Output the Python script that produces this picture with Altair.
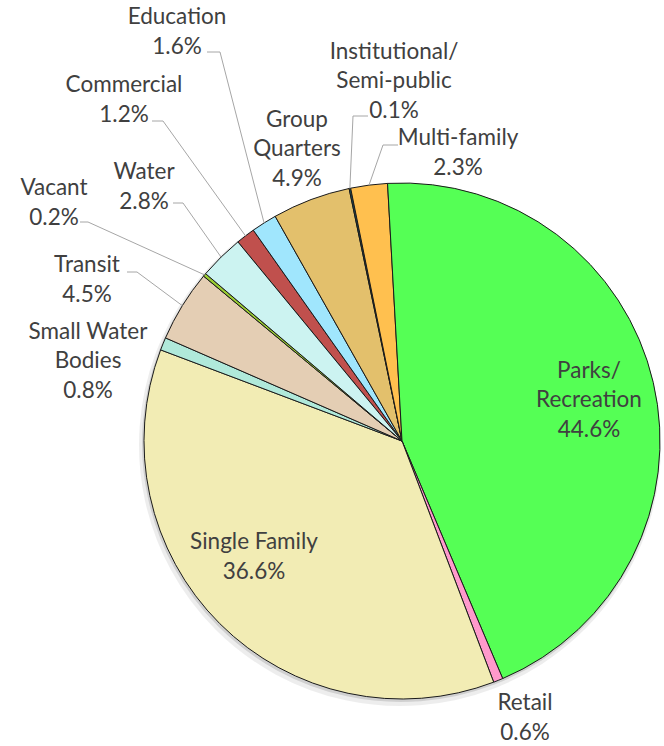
import math
import altair as alt
import pandas as pd

# ---------------- data ----------------
categories = ["Commercial", "Education", "Group Quarters", "Institutional/Semi-public",
              "Multi-family", "Parks/Recreation", "Retail", "Single Family",
              "Small Water Bodies", "Transit", "Vacant", "Water"]
label_names = ["Commercial", "Education", "Group\nQuarters", "Institutional/\nSemi-public",
               "Multi-family", "Parks/\nRecreation", "Retail", "Single Family",
               "Small Water\nBodies", "Transit", "Vacant", "Water"]
shares = [1.2, 1.6, 4.9, 0.1, 2.3, 44.6, 0.6, 36.6, 0.8, 4.5, 0.2, 2.8]
colors = ["#c0504d", "#a0e6fd", "#e3c06c", "#1d5a62", "#ffc04f", "#55ff55",
          "#ff99cc", "#f2ecb4", "#b0e9da", "#e4ceb4", "#9acd32", "#ccf3f1"]

# ---------------- layout ----------------
W, H = 664, 746
CX, CY, R = 402, 441, 258
START_DEG = -39.5  # rotation of first slice
LINE_H = 29.5

# label block centres (pixels)
label_pos = {
    "Commercial": (124, 100), "Education": (177, 32), "Group Quarters": (297, 149),
    "Institutional/Semi-public": (394, 81), "Multi-family": (458, 153),
    "Parks/Recreation": (589, 400), "Retail": (525, 718), "Single Family": (254, 557),
    "Small Water Bodies": (88, 361), "Transit": (87, 280), "Vacant": (54, 203),
    "Water": (144, 187),
}
# leader lines: (attach point at text, elbow)
leaders = {
    "Education": ((207, 52), (220, 52)),
    "Commercial": ((152, 121), (163, 121)),
    "Water": ((173, 203), (183, 203)),
    "Vacant": ((80, 222), (88, 222)),
    "Transit": ((127, 272), (137, 272)),
    "Institutional/Semi-public": ((368, 116), (353, 116)),
    "Multi-family": ((398, 145), (383, 145)),
}

total = sum(shares)
a0 = math.radians(START_DEG)

df = pd.DataFrame({"category": categories, "share": shares, "order": list(range(len(categories)))})

# label table (y is the first line's centre)
lab_rows = []
for name, lbl, v in zip(categories, label_names, shares):
    txt = f"{lbl}\n{v:.1f}%"
    n = txt.count("\n") + 1
    x, y = label_pos[name]
    lab_rows.append({"category": name, "txt": txt, "lx": x, "ly": y - (n - 1) * LINE_H / 2})
lab_df = pd.DataFrame(lab_rows)

# leader lines: from label attach -> elbow -> slice edge at mid angle
lead_rows = []
cum = 0.0
for name, v in zip(categories, shares):
    mid = a0 + (cum + v / 2) / total * 2 * math.pi
    cum += v
    if name in leaders:
        (ax, ay), (ex, ey) = leaders[name]
        px = CX + R * math.sin(mid)
        py = CY - R * math.cos(mid)
        lead_rows += [
            {"category": name, "seq": 0, "px": ax, "py": ay},
            {"category": name, "seq": 1, "px": ex, "py": ey},
            {"category": name, "seq": 2, "px": px, "py": py},
        ]
lead_df = pd.DataFrame(lead_rows)

theta = alt.Theta("share:Q", stack=True,
                  scale=alt.Scale(domain=[0, total], range=[a0, a0 + 2 * math.pi]))
order = alt.Order("order:Q")

shadow1 = alt.Chart(df).mark_arc(radius=261, color="#000000", opacity=0.07).encode(
    theta=theta, order=order, x=alt.value(CX - 2), y=alt.value(CY + 4))
shadow2 = alt.Chart(df).mark_arc(radius=259, color="#000000", opacity=0.12).encode(
    theta=theta, order=order, x=alt.value(CX - 1), y=alt.value(CY + 2))

pie = alt.Chart(df).mark_arc(radius=R, stroke="#1a1a1a", strokeWidth=1).encode(
    theta=theta,
    order=order,
    color=alt.Color("category:N", scale=alt.Scale(domain=categories, range=colors), legend=None),
    x=alt.value(CX), y=alt.value(CY),
)

lines = alt.Chart(lead_df).mark_line(color="#a6a6a6", strokeWidth=1).encode(
    x=alt.X("px:Q", scale=None), y=alt.Y("py:Q", scale=None),
    detail="category:N", order="seq:Q")

text = alt.Chart(lab_df).mark_text(
    font="Lato", fontSize=22.5, color="#404040", lineBreak="\n", lineHeight=LINE_H,
    align="center", baseline="middle").encode(
    x=alt.X("lx:Q", scale=None), y=alt.Y("ly:Q", scale=None), text="txt:N")

chart = alt.layer(shadow1, shadow2, pie, lines, text).properties(
    width=W, height=H, autosize=alt.AutoSizeParams(type="none"), padding=0,
    background="white"
).configure_view(stroke=None)

chart.save("out.html", embed_options={"renderer": "svg", "actions": False})
